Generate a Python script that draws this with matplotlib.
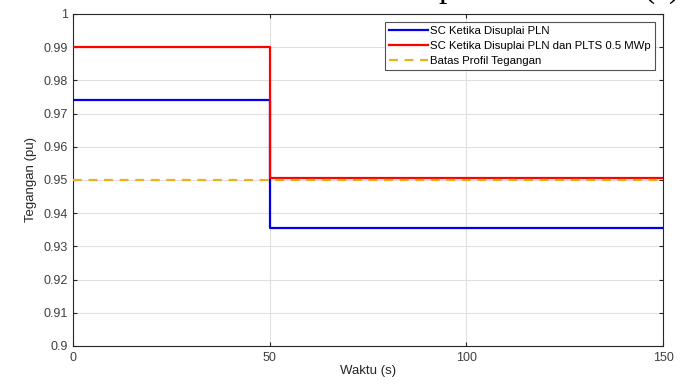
import matplotlib
matplotlib.use("Agg")
import matplotlib.pyplot as plt
import numpy as np

time = [0, 50, 150]
pln = [0.974, 0.9355, 0.9355]
pln_plts = [0.99, 0.9505, 0.9505]
batas_t = [0, 150]
batas = [0.95, 0.95]
labels = ["SC Ketika Disuplai PLN", "SC Ketika Disuplai PLN dan PLTS 0.5 MWp", "Batas Profil Tegangan"]
yticks = [0.9, 0.91, 0.92, 0.93, 0.94, 0.95, 0.96, 0.97, 0.98, 0.99, 1.0]
yticklabels = ["0.9", "0.91", "0.92", "0.93", "0.94", "0.95", "0.96", "0.97", "0.98", "0.99", "1"]
xticks = [0, 50, 100, 150]

plt.rcParams['font.family'] = ['Liberation Sans', 'DejaVu Sans']
fig = plt.figure(figsize=(6.86, 3.87), dpi=100)
ax = fig.add_axes([73/686, 1-346/387, (663-73)/686, (346-14)/387])

ax.step(time, pln, where='post', color='#0000E6', lw=1.6, label=labels[0], zorder=3)
ax.step(time, pln_plts, where='post', color='#FF0000', lw=1.6, label=labels[1], zorder=4)
ax.plot(batas_t, batas, color='#EDB120', lw=1.6, ls=(0, (4, 3)), label=labels[2], zorder=5)

ax.set_xlim(0, 150)
ax.set_ylim(0.9, 1.0)
ax.set_xticks(xticks)
ax.set_yticks(yticks)
ax.set_yticklabels(yticklabels)
ax.grid(True, color='#E0E0E0', lw=0.8)
ax.set_axisbelow(True)
ax.tick_params(direction='in', labelsize=9, colors='#262626', labelcolor='#404040', length=3, top=True, right=True)
ax.tick_params(axis='x', pad=4)
for s in ax.spines.values():
    s.set_color('#262626')
    s.set_linewidth(0.8)
ax.set_xlabel('Waktu (s)', fontsize=9.5, color='#262626', labelpad=1)
ax.set_ylabel('Tegangan (pu)', fontsize=9.5, color='#262626', labelpad=5)

leg = ax.legend(loc='upper right', fontsize=8.2, frameon=True, fancybox=False,
                edgecolor='#262626', handlelength=3.4, borderaxespad=0.7,
                labelspacing=0.45, borderpad=0.35, handletextpad=0.2)
leg.get_frame().set_linewidth(0.8)

fig.text(447/686, 1 + 3/387, 'p', fontsize=24, family='Liberation Serif', va='baseline', ha='center')
fig.text(662/686, 1 + 3/387, '(a)', fontsize=24, family='Liberation Serif', va='baseline', ha='center')

fig.savefig('out.png', dpi=100)
